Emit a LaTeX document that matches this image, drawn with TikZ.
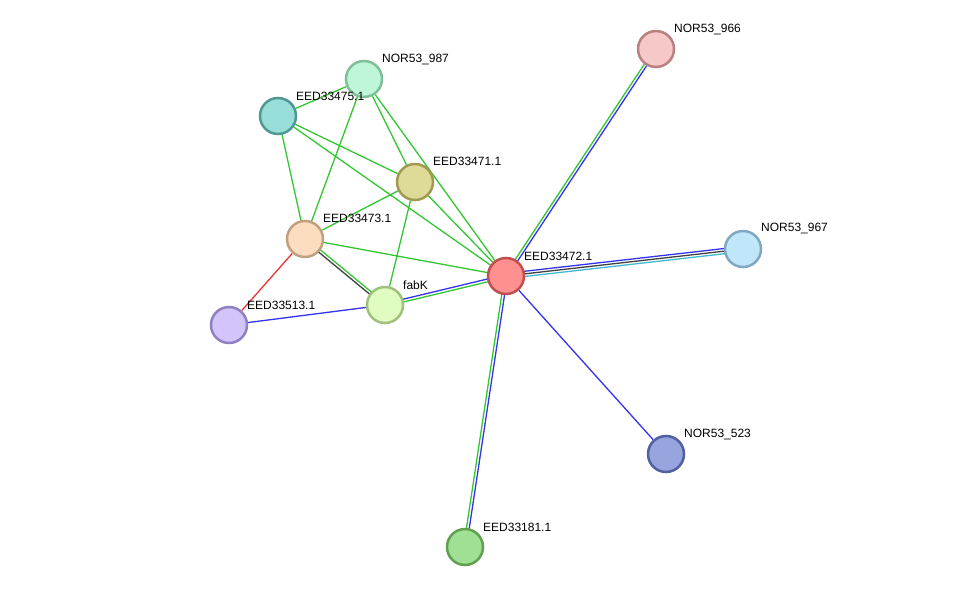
\documentclass[tikz,border=0pt]{standalone}
\usepackage{fontspec}
\setmainfont{Liberation Sans}
\usetikzlibrary{calc}
\pgfdeclarelayer{background}
\pgfsetlayers{background,main}
\definecolor{eg}{HTML}{33C633}
\definecolor{eb}{HTML}{3333F0}
\definecolor{er}{HTML}{F03333}
\definecolor{ek}{HTML}{404040}
\definecolor{ec}{HTML}{40B8D0}
\tikzset{
  prot/.style={circle, minimum size=36pt, inner sep=0pt, line width=2.5pt},
  lbl/.style={anchor=west, font=\fontsize{12}{14}\selectfont, inner sep=0pt, yshift=-1.5pt},
  edge/.style={line width=1.3pt},
}
\newcommand{\pedge}[4]{\draw[edge,#4] ($(#1)!#3!90:(#2)$) -- ($(#2)!#3!-90:(#1)$);}
\begin{document}
\begin{tikzpicture}[x=1pt,y=-1pt]
\useasboundingbox (0,0) rectangle (976,593);
\node[prot, fill={rgb,255:red,247;green,200;blue,200}, draw={rgb,255:red,184;green,128;blue,128}] (n966) at (656,49) {};
\node[prot, fill={rgb,255:red,192;green,246;blue,216}, draw={rgb,255:red,128;green,192;blue,152}] (n987) at (364,79) {};
\node[prot, fill={rgb,255:red,152;green,222;blue,216}, draw={rgb,255:red,80;green,152;blue,148}] (n475) at (278,116) {};
\node[prot, fill={rgb,255:red,222;green,218;blue,152}, draw={rgb,255:red,160;green,154;blue,80}] (n471) at (415,182) {};
\node[prot, fill={rgb,255:red,253;green,221;blue,192}, draw={rgb,255:red,192;green,160;blue,128}] (n473) at (305,239) {};
\node[prot, fill={rgb,255:red,255;green,144;blue,144}, draw={rgb,255:red,192;green,80;blue,80}] (n472) at (506,276) {};
\node[prot, fill={rgb,255:red,192;green,230;blue,250}, draw={rgb,255:red,128;green,168;blue,192}] (n967) at (743,249) {};
\node[prot, fill={rgb,255:red,224;green,252;blue,192}, draw={rgb,255:red,160;green,192;blue,128}] (nfab) at (385,305) {};
\node[prot, fill={rgb,255:red,212;green,196;blue,252}, draw={rgb,255:red,144;green,128;blue,192}] (n513) at (229,325) {};
\node[prot, fill={rgb,255:red,152;green,164;blue,222}, draw={rgb,255:red,80;green,96;blue,160}] (n523) at (666,454) {};
\node[prot, fill={rgb,255:red,160;green,224;blue,148}, draw={rgb,255:red,96;green,160;blue,80}] (n181) at (465,547) {};

\node[lbl] (l966) at (674,28) {NOR53\_966};
\node[lbl] (l987) at (382,58) {NOR53\_987};
\node[lbl] (l475) at (296,95) {EED33475.1};
\node[lbl] (l471) at (433,160) {EED33471.1};
\node[lbl] (l473) at (323,217) {EED33473.1};
\node[lbl] (l472) at (524,255) {EED33472.1};
\node[lbl] (l967) at (761,227) {NOR53\_967};
\node[lbl] (lfab) at (403,284) {fabK};
\node[lbl] (l513) at (247,304) {EED33513.1};
\node[lbl] (l523) at (684,433) {NOR53\_523};
\node[lbl] (l181) at (483,526) {EED33181.1};

\begin{pgfonlayer}{background}
\draw[edge,eg] (n475) -- (n987);
\draw[edge,eg] (n475) -- (n471);
\draw[edge,eg] (n475) -- (n472);
\draw[edge,eg] (n475) -- (n473);
\draw[edge,eg] (n987) -- (n473);
\draw[edge,eg] (n987) -- (n471);
\draw[edge,eg] (n987) -- (n472);
\draw[edge,eg] (n471) -- (n473);
\draw[edge,eg] (n471) -- (n472);
\draw[edge,eg] (n471) -- (nfab);
\draw[edge,eg] (n473) -- (n472);
\pedge{n473}{nfab}{1.4pt}{eg}
\pedge{n473}{nfab}{-1.4pt}{ek}
\draw[edge,er] (n473) -- (n513);
\draw[edge,eb] (n513) -- (nfab);
\pedge{nfab}{n472}{1.4pt}{eb}
\pedge{nfab}{n472}{-1.4pt}{eg}
\pedge{n472}{n966}{1.4pt}{eg}
\pedge{n472}{n966}{-1.4pt}{eb}
\pedge{n472}{n967}{2.6pt}{eb}
\pedge{n472}{n967}{0pt}{ek}
\pedge{n472}{n967}{-2.6pt}{ec}
\draw[edge,eb] (n472) -- (n523);
\pedge{n472}{n181}{-1.4pt}{eg}
\pedge{n472}{n181}{1.4pt}{eb}
\end{pgfonlayer}
\end{tikzpicture}
\end{document}
